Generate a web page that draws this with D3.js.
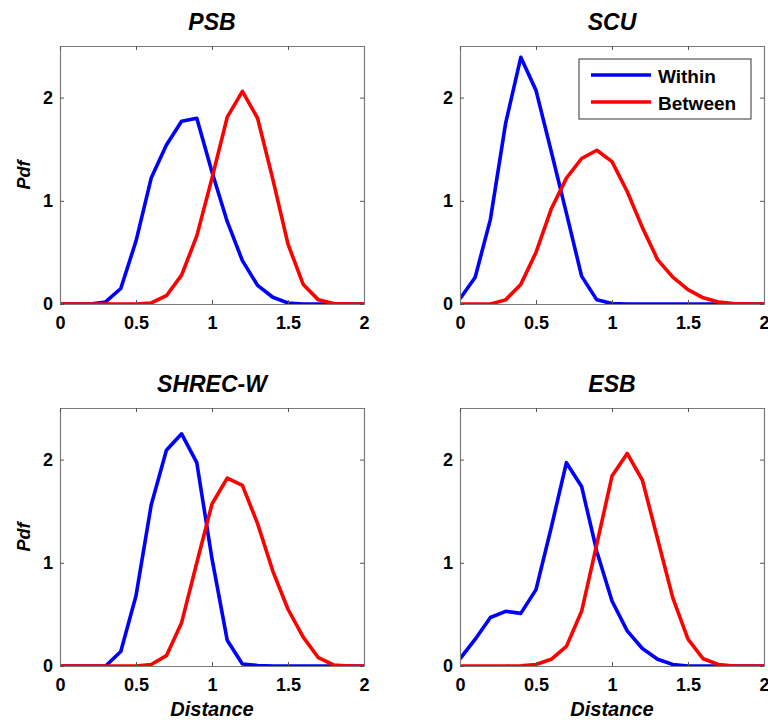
<!DOCTYPE html>
<html>
<head>
<meta charset="utf-8">
<script src="https://cdn.jsdelivr.net/npm/d3@7/dist/d3.min.js"></script>
<style>
  body { margin: 0; background: #fff; }
  svg { display: block; }
  text { font-family: Arial, "Liberation Sans", Helvetica, sans-serif; }
</style>
</head>
<body>
<svg id="chart" width="768" height="720"></svg>
<script>
// ---------- data ----------
const distance = [0, 0.1, 0.2, 0.3, 0.4, 0.5, 0.6, 0.7, 0.8, 0.9, 1.0,
                  1.1, 1.2, 1.3, 1.4, 1.5, 1.6, 1.7, 1.8, 1.9, 2.0];

const psbWithin   = [0, 0, 0, 0.02, 0.15, 0.61, 1.22, 1.54, 1.77, 1.80, 1.28,
                     0.80, 0.42, 0.18, 0.065, 0.01, 0, 0, 0, 0, 0];
const psbBetween  = [0, 0, 0, 0, 0, 0, 0.01, 0.08, 0.28, 0.66, 1.22,
                     1.81, 2.06, 1.80, 1.21, 0.58, 0.19, 0.04, 0.005, 0, 0];

const scuWithin   = [0.05, 0.26, 0.82, 1.75, 2.39, 2.07, 1.48, 0.88, 0.27, 0.04, 0.005,
                     0, 0, 0, 0, 0, 0, 0, 0, 0, 0];
const scuBetween  = [0, 0, 0, 0.04, 0.19, 0.50, 0.92, 1.22, 1.41, 1.49, 1.38,
                     1.09, 0.74, 0.43, 0.26, 0.14, 0.06, 0.02, 0.005, 0, 0];

const shrecWithin = [0, 0, 0, 0, 0.14, 0.68, 1.56, 2.09, 2.25, 1.97, 1.04,
                     0.25, 0.02, 0.005, 0, 0, 0, 0, 0, 0, 0];
const shrecBetween= [0, 0, 0, 0, 0, 0, 0.015, 0.10, 0.42, 1.00, 1.57,
                     1.82, 1.75, 1.38, 0.92, 0.55, 0.28, 0.08, 0.01, 0, 0];

const esbWithin   = [0.07, 0.26, 0.47, 0.53, 0.51, 0.74, 1.34, 1.97, 1.74, 1.11, 0.63,
                     0.34, 0.17, 0.065, 0.015, 0, 0, 0, 0, 0, 0];
const esbBetween  = [0, 0, 0, 0, 0.003, 0.015, 0.065, 0.19, 0.53, 1.18, 1.84,
                     2.06, 1.80, 1.23, 0.66, 0.26, 0.07, 0.015, 0, 0, 0];

const panelTitles = ["PSB", "SCU", "SHREC-W", "ESB"];
const seriesNames = ["Within", "Between"];
const xTicks = [0, 0.5, 1, 1.5, 2];
const yTicks = [0, 1, 2];
const xTickLabels = ["0", "0.5", "1", "1.5", "2"];
const yTickLabels = ["0", "1", "2"];
const xLabel = "Distance";
const yLabel = "Pdf";

// ---------- layout ----------
const colors = ["#0000FF", "#FF0000"];
const panels = [
  { title: panelTitles[0], series: [psbWithin, psbBetween],   x0: 60,  y0: 46,  ylab: true,  xlab: false, legend: false },
  { title: panelTitles[1], series: [scuWithin, scuBetween],   x0: 460, y0: 46,  ylab: false, xlab: false, legend: true },
  { title: panelTitles[2], series: [shrecWithin, shrecBetween], x0: 60,  y0: 408, ylab: true,  xlab: true,  legend: false },
  { title: panelTitles[3], series: [esbWithin, esbBetween],   x0: 460, y0: 408, ylab: false, xlab: true,  legend: false }
];
const W = 304, H = 258;

const svg = d3.select("#chart");
const defs = svg.append("defs");

panels.forEach((p, i) => {
  const g = svg.append("g").attr("transform", `translate(${p.x0},${p.y0})`);
  const x = d3.scaleLinear().domain([0, 2]).range([0, W]);
  const y = d3.scaleLinear().domain([0, 2.5]).range([H, 0]);

  defs.append("clipPath").attr("id", "clip" + i)
    .append("rect").attr("x", 0).attr("y", -2).attr("width", W).attr("height", H + 2);

  // series lines
  const line = d3.line().x((d, k) => x(distance[k])).y(d => y(d));
  const lg = g.append("g").attr("clip-path", `url(#clip${i})`);
  p.series.forEach((s, k) => {
    lg.append("path").datum(s)
      .attr("d", line)
      .attr("fill", "none")
      .attr("stroke", colors[k])
      .attr("stroke-width", 3.6)
      .attr("stroke-linejoin", "round");
  });

  // axes (ticks inward, box)
  const axisColor = "#7a7a7a";
  const bottom = g.append("g").attr("transform", `translate(0,${H})`)
    .call(d3.axisBottom(x).tickValues(xTicks).tickFormat((d, k) => xTickLabels[k])
      .tickSizeInner(-4).tickSizeOuter(0).tickPadding(12));
  const left = g.append("g")
    .call(d3.axisLeft(y).tickValues(yTicks).tickFormat((d, k) => yTickLabels[k])
      .tickSizeInner(-4).tickSizeOuter(0).tickPadding(7));
  const top = g.append("g")
    .call(d3.axisTop(x).tickValues(xTicks).tickFormat("").tickSizeInner(-4).tickSizeOuter(0));
  const right = g.append("g").attr("transform", `translate(${W},0)`)
    .call(d3.axisRight(y).tickValues(yTicks).tickFormat("").tickSizeInner(-4).tickSizeOuter(0));

  [bottom, left, top, right].forEach(a => {
    a.select(".domain").attr("stroke", axisColor).attr("stroke-width", 1.2);
    a.selectAll(".tick line").attr("stroke", "#555").attr("stroke-width", 1);
    a.selectAll(".tick text")
      .attr("fill", "#000")
      .style("font-size", "18px")
      .style("font-weight", "bold");
  });

  // title
  g.append("text")
    .attr("x", W / 2).attr("y", -16)
    .attr("text-anchor", "middle")
    .style("font-size", "23px").style("font-weight", "bold").style("font-style", "italic")
    .text(p.title);

  if (p.ylab) {
    g.append("text")
      .attr("transform", `translate(${30 - p.x0},${H / 2}) rotate(-90)`)
      .attr("text-anchor", "middle")
      .style("font-size", "18px").style("font-weight", "bold").style("font-style", "italic")
      .text(yLabel);
  }
  if (p.xlab) {
    g.append("text")
      .attr("x", W / 2).attr("y", H + 50)
      .attr("text-anchor", "middle")
      .style("font-size", "20px").style("font-weight", "bold").style("font-style", "italic")
      .text(xLabel);
  }

  if (p.legend) {
    const lgX = 119, lgY = 13;
    const leg = g.append("g").attr("transform", `translate(${lgX},${lgY})`);
    leg.append("rect").attr("x", 0).attr("y", 0).attr("width", 172).attr("height", 60)
      .attr("fill", "#fff").attr("stroke", "#333").attr("stroke-width", 1);
    seriesNames.forEach((name, k) => {
      const yy = 16 + k * 27;
      leg.append("line").attr("x1", 12).attr("x2", 72).attr("y1", yy).attr("y2", yy)
        .attr("stroke", colors[k]).attr("stroke-width", 3.6);
      leg.append("text").attr("x", 79).attr("y", yy + 8)
        .style("font-size", "19px").style("font-weight", "bold")
        .text(name);
    });
  }
});
</script>
</body>
</html>
